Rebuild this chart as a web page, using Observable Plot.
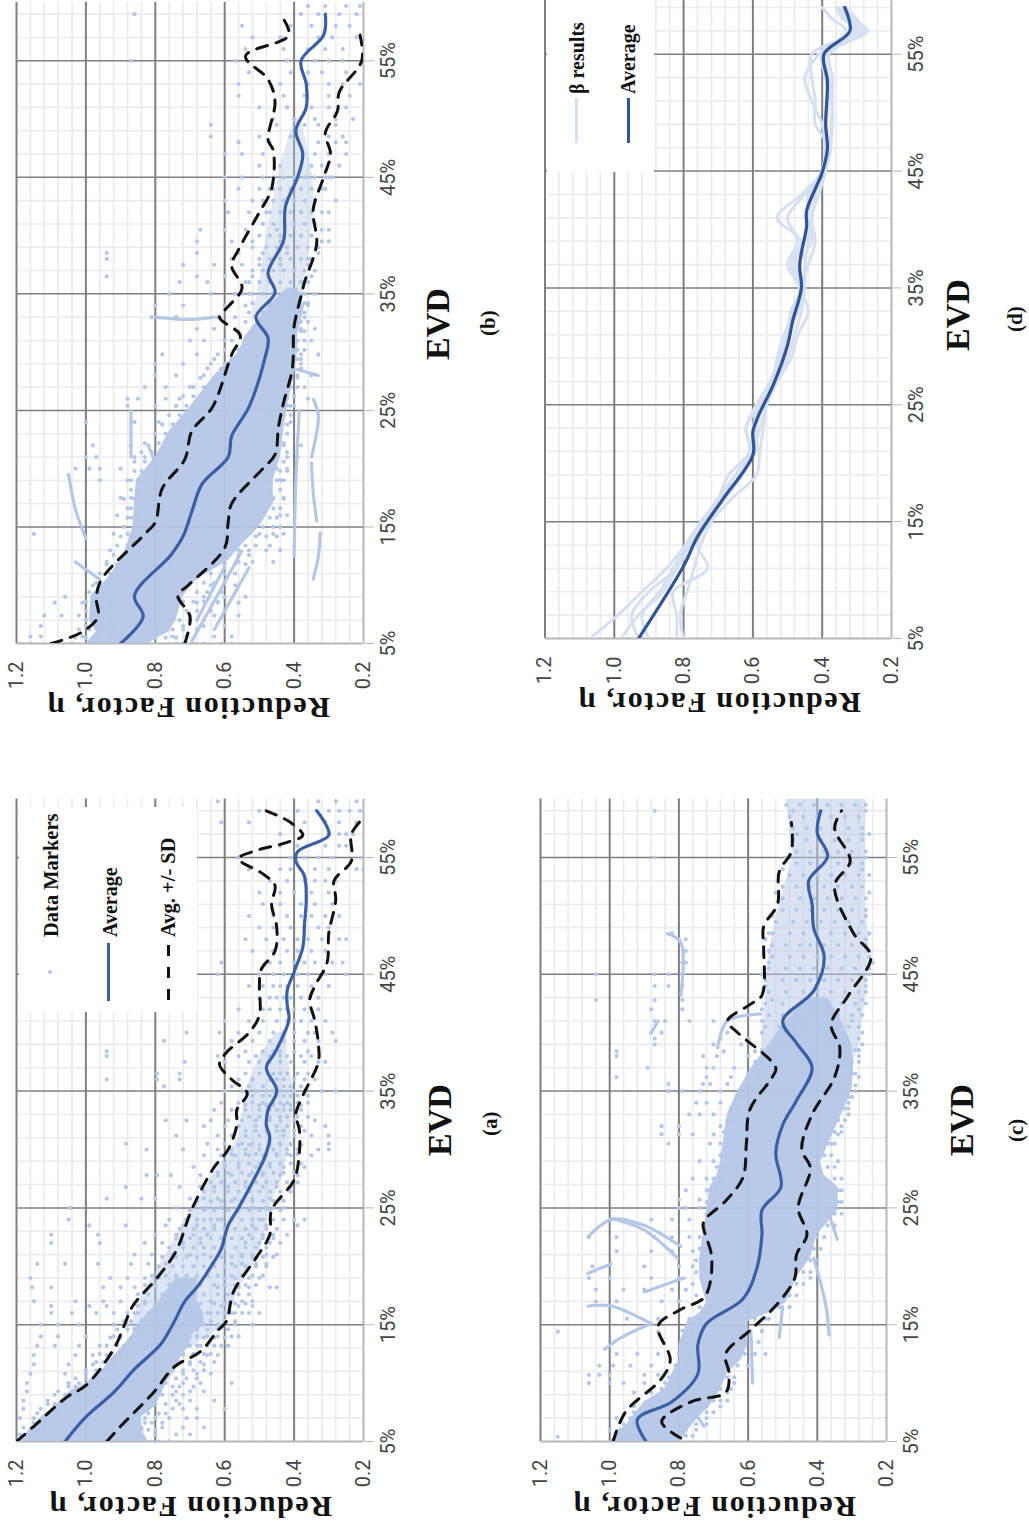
<!DOCTYPE html>
<html><head><meta charset="utf-8">
<script src="https://cdn.jsdelivr.net/npm/d3@7"></script>
<script src="https://cdn.jsdelivr.net/npm/@observablehq/plot@0.6"></script>
<style>
html,body{margin:0;padding:0;background:#fff;width:1029px;height:1531px;overflow:hidden}
#page{position:relative;width:1029px;height:1531px;overflow:hidden}
.plot{position:absolute}
.t{position:absolute;white-space:nowrap;transform-origin:0 0;font-family:"Liberation Serif",serif;font-weight:700;color:#111;line-height:1}
.box{position:absolute;background:#fff}
</style></head><body><div id="page"></div>
<script>
// shared ticks
const etaMajor=[1.2,1.0,0.8,0.6,0.4,0.2];
const etaMinor=[1.16,1.12,1.08,1.04,0.96,0.92,0.88,0.84,0.76,0.72,0.68,0.64,0.56,0.52,0.48,0.44,0.36,0.32,0.28,0.24];
const evdMajor=[5,15,25,35,45,55];
const evdMinor=[7,9,11,13,17,19,21,23,27,29,31,33,37,39,41,43,47,49,51,53,57,59];

// average and +/- SD series: [EVD, eta]
const avgA=[[5,1.06],[7.1,1],[9.2,.92],[11.2,.86],[13.3,.785],[15,.75],[17,.715],[18.2,.68],[20.2,.635],[21.5,.61],[23.5,.59],[25,.56],[27.2,.52],[29.3,.485],[31,.47],[32.1,.48],[33.4,.475],[35,.45],[37,.48],[38.3,.455],[41.1,.415],[42.4,.42],[43.6,.42],[45.2,.4],[47.3,.375],[49.3,.37],[51.4,.365],[53.4,.37],[54.7,.395],[55.5,.39],[56.9,.3],[57.9,.31],[59,.335]];
const upA=[[5,1.2],[6.3,1.15],[8.8,1.055],[9.8,1],[12.9,.92],[14.9,.89],[16.6,.865],[19,.795],[21.3,.74],[24.5,.7],[26.4,.67],[28.5,.63],[30,.59],[32.1,.565],[33.4,.565],[34.8,.535],[36,.58],[37.3,.615],[38.3,.595],[40,.53],[41.5,.5],[44,.5],[45.4,.495],[47,.455],[49,.45],[51,.465],[52.6,.455],[53.6,.49],[54.9,.56],[55.5,.52],[56.3,.42],[56.9,.375],[58,.41],[59,.48]];
const loA=[[5,.94],[6.3,.9],[9.2,.805],[11.4,.745],[12.7,.67],[14.5,.62],[15.3,.595],[17.8,.575],[20.7,.51],[22.7,.47],[24.8,.465],[27.4,.4],[29.7,.385],[31.7,.385],[33,.395],[34.6,.375],[37.5,.33],[39,.33],[41,.34],[42.8,.355],[44,.34],[46,.305],[48.5,.3],[51.4,.28],[53,.285],[54.7,.235],[57,.235],[58.4,.2]];

const avgB=[[5,.9],[7.3,.835],[9.1,.86],[12.6,.755],[14.2,.72],[16.3,.695],[18.7,.665],[21,.59],[22.8,.58],[25.3,.53],[29.4,.485],[31.2,.475],[33,.51],[35.1,.455],[36.8,.475],[39.6,.43],[42.5,.425],[45,.39],[47,.375],[49,.395],[51,.365],[53,.365],[55,.38],[57.2,.315],[59,.31]];
const upB=[[5,1.1],[6,1.01],[7.3,.965],[8.9,.97],[10.5,.955],[14.4,.83],[15.4,.8],[18.3,.78],[20.8,.715],[23.2,.695],[25.3,.635],[29.8,.58],[31.4,.555],[33,.615],[33.9,.59],[35.5,.55],[37.4,.58],[38.8,.56],[42,.5],[44,.465],[47.3,.46],[48.2,.475],[51.5,.455],[53.4,.475],[55.4,.54],[57.2,.415],[59,.44]];
const loB=[[5,.715],[7.3,.7],[9.1,.735],[10,.705],[13.2,.6],[15.4,.59],[17,.58],[20,.49],[21.2,.455],[23.6,.445],[25.7,.43],[28.6,.405],[32.2,.4],[34.8,.38],[36,.37],[39.3,.335],[42.2,.345],[45,.315],[47,.295],[48.8,.31],[50.7,.275],[52.3,.27],[55,.205],[57.2,.21]];

const avgC=[[5,.895],[6.9,.92],[8.4,.82],[10.8,.745],[13.3,.745],[15.1,.72],[17.2,.615],[19.8,.575],[22.7,.56],[24.8,.56],[26.8,.505],[29.7,.52],[32.1,.5],[34.2,.46],[37,.415],[39.1,.46],[41,.5],[43.6,.41],[46.5,.38],[48.9,.41],[51,.415],[53,.425],[55.1,.37],[57.1,.4],[59,.39]];
const upC=[[5,.99],[7.5,.955],[10.4,.85],[12,.825],[14.9,.86],[16.3,.795],[17.4,.725],[20.7,.705],[23.5,.73],[24,.725],[25.6,.665],[27.6,.615],[30.5,.605],[33.4,.595],[36.2,.53],[37,.52],[40,.63],[41,.66],[42.4,.595],[43.2,.56],[47.3,.555],[49.1,.555],[51,.515],[53.8,.51],[55.5,.475],[58,.475]];
const loC=[[5.3,.795],[6.7,.85],[8.4,.765],[9.2,.665],[10.8,.655],[12.5,.665],[14.5,.595],[16.8,.515],[19,.465],[21,.46],[22.7,.43],[25,.455],[28.4,.42],[30,.445],[33,.415],[36.2,.35],[38.7,.335],[40.7,.36],[43.2,.31],[46.5,.245],[48.5,.295],[52.6,.35],[54.7,.305],[57.5,.35],[59,.33]];

const avgD=[[5,.93],[11.2,.8],[13.7,.76],[17,.685],[20.7,.6],[22.7,.6],[24,.585],[26.8,.54],[30.1,.5],[32.2,.485],[35,.46],[37,.465],[40.3,.445],[41.6,.445],[44.9,.4],[46.9,.385],[49,.39],[52.7,.385],[55,.395],[57,.32],[59,.335]];
const betaEvd=[5,7,9,11,13,15,17,19,21,23,25,27,29,31,33,35,37,39,41,43,45,47,49,51,53,55,57,58,59];
const beta1=[1.07,.99,.92,.85,.795,.75,.7,.67,.605,.62,.59,.55,.525,.5,.49,.46,.49,.46,.53,.46,.4,.39,.4,.43,.45,.41,.33,.37,.4];
const beta2=[.93,.95,.9,.82,.78,.74,.7,.65,.6,.6,.58,.54,.53,.51,.48,.465,.5,.47,.5,.45,.4,.38,.42,.42,.43,.43,.3,.34,.36];
const beta3=[.82,.82,.83,.73,.76,.73,.68,.63,.6,.58,.56,.53,.5,.48,.46,.45,.45,.44,.43,.42,.4,.38,.37,.37,.37,.38,.28,.3,.33];
const beta4=[.8,.81,.79,.77,.75,.72,.66,.59,.58,.57,.56,.53,.49,.47,.44,.46,.44,.42,.43,.41,.39,.375,.375,.37,.38,.39,.27,.31,.34];
const beta5=[.9,.92,.87,.83,.79,.75,.7,.67,.61,.62,.58,.55,.52,.5,.49,.46,.48,.45,.44,.43,.4,.39,.39,.38,.39,.4,.31,.33,.36];
const beta6=[.98,.93,.86,.82,.78,.74,.69,.65,.59,.59,.57,.54,.51,.5,.47,.46,.47,.43,.44,.44,.4,.38,.39,.38,.38,.4,.29,.32,.35];

// dense cores of the clouds: [EVD, upper eta, lower eta]
const coreA=[[5,1.2,.82],[6,1.16,.84],[7.1,1.13,.84],[8,1.09,.8],[9.2,1.05,.78],[10,1,.77],[11.2,.95,.74],[12,.93,.73],[13.3,.89,.7],[14,.87,.7],[15,.85,.66],[16,.82,.66],[17,.79,.68],[19,.74,.68]];
const hazeA=[[13,.84,.7],[15,.87,.6],[18,.83,.56],[21,.77,.5],[25,.69,.47],[28,.63,.43],[31,.56,.41],[35,.54,.4],[38,.5,.42],[40,.45,.42]];
const coreB=[[5,1,.82],[6,.97,.76],[7,.99,.74],[9.1,.985,.72],[10.5,.94,.68],[12.1,.9,.59],[13.5,.88,.55],[15,.865,.5],[17,.86,.46],[19,.855,.46],[21,.8,.44],[23.2,.76,.43],[25.3,.7,.42],[28,.63,.4],[30,.56,.39],[31.4,.54,.39],[33.9,.475,.37],[35.5,.42,.39]];
const hazeB=[[31,.46,.42],[33,.52,.38],[36,.5,.37],[40,.48,.35],[43,.46,.34],[46,.44,.35],[50,.4,.38]];
const coreC=[[5,1,.8],[6.5,.95,.76],[8.4,.9,.7],[9.5,.84,.68],[10.8,.82,.66],[12,.8,.62],[13.3,.8,.6],[15.3,.775,.6],[16,.74,.54],[16.9,.72,.49],[19,.74,.46],[20.7,.74,.42],[22.7,.73,.4],[24.8,.72,.34],[26.8,.71,.34],[27.8,.69,.38],[28.9,.68,.39],[31,.67,.36],[33,.66,.33],[35,.63,.3],[37,.59,.295],[39,.54,.3],[41,.49,.33],[43,.43,.37]];
const hazeC=[[37,.55,.3],[39,.56,.28],[43,.55,.26],[47,.54,.25],[51,.51,.26],[55,.47,.26],[60,.49,.26]];

// dots: [EVD, eta, eta, ...]
const dotsA=[
[5,1.19,1.18,1.16,.83,.81,.79,.76],[5.6,1.19,1.17,.85,.8,.74,.7],[6.2,1.18,1.15,1.12,.84,.78,.72,.66],[7,1.19,1.15,1.1,.83,.8,.76,.71,.68],
[7.8,1.18,1.13,1.09,.82,.75,.72,.68,.6],[8.5,1.18,1.11,1.06,.8,.74,.7,.63],[9.3,1.17,1.08,1.04,.79,.74,.7,.66],[10,1.17,1.05,1.02,.77,.72,.67,.58],
[10.8,1.16,1.06,1,.76,.72,.68,.64],[11.6,1.15,1.05,.98,.74,.7,.66],[12.4,1.15,1.03,.98,.94,.72,.69,.65,.62],[13.2,1.14,1.09,1.02,.96,.7,.67,.63,.59],
[14,1.13,1.08,1,.92,.68,.65,.62,.58,.56],[15,1.13,1.08,1.02,.92,.88,.66,.62,.6,.57,.52],[16,1.1,1.04,.97,.92,.86,.64,.6,.57,.53,.5],[16.6,1.1,.99,.94,.85,.61,.56,.52],
[17,1.15,1.03,.95,.9,.83,.64,.58,.55,.52],[18.2,1.155,1.1,.95,.9,.86,.8,.62,.56,.53,.47,.45],[19,1.16,.93,.88,.83,.79,.6,.57,.53,.5],[20.2,1.14,1.06,.965,.87,.82,.77,.58,.55,.51,.48],
[21,.86,.81,.75,.7,.66,.55,.52,.48,.45],[22,1.1,.96,.83,.78,.72,.67,.54,.5,.47,.44],[22.7,1.1,.965,.8,.74,.69,.65,.53,.49,.46,.42],[23.5,.99,.885,.77,.72,.68,.63,.52,.48,.39],
[24,1.05,.76,.71,.66,.62,.58,.5,.47,.4,.37],[25,1.045,.74,.69,.65,.61,.56,.52,.48,.46,.43],[25.8,.94,.84,.8,.7,.66,.62,.57,.52,.47,.44],[26.8,.885,.73,.67,.63,.59,.54,.49,.45,.41],
[27.8,.825,.795,.755,.67,.62,.58,.53,.49,.44,.39],[28.5,.69,.63,.6,.56,.51,.47,.43,.37],[29.5,.66,.61,.57,.53,.49,.45,.41,.35],[30,.825,.72,.62,.58,.54,.5,.46,.42,.39,.33,.3],
[30.5,.885,.65,.6,.55,.52,.47,.44,.41,.3],[31.2,.74,.62,.58,.54,.5,.47,.43,.4,.35,.3],[32,.66,.6,.56,.51,.48,.45,.42,.38,.31],[32.5,.77,.71,.64,.59,.55,.51,.47,.44,.4,.34],
[33.4,.63,.58,.54,.5,.47,.45,.43,.41,.38],[34,.61,.56,.52,.49,.46,.44,.42,.39,.36],[35,.6,.55,.51,.48,.46,.44,.42,.4,.37,.32,.28],[35.4,.775,.58,.53,.49,.45,.43,.41,.38],
[36,.94,.795,.73,.56,.52,.47,.45,.43,.4,.37,.34],[36.5,.795,.73,.54,.5,.46,.44,.42,.39,.36],[37.5,.715,.6,.53,.5,.47,.44,.41,.37,.33,.31],[38,.94,.62,.56,.51,.47,.44,.42,.38,.35],
[38.4,.94,.6,.54,.49,.46,.44,.4,.36],[39.3,.775,.58,.52,.47,.43,.4,.37,.33,.28],[40,.71,.615,.56,.5,.46,.43,.4,.36,.34,.29],[41,.6,.53,.49,.45,.42,.4,.38,.35,.31],
[42,.56,.49,.47,.44,.42,.4,.37,.33],[43,.5,.47,.45,.43,.41,.38,.33],[44,.53,.49,.46,.44,.42,.39,.35,.3],[45,.62,.5,.46,.43,.39,.36,.31,.25],
[46,.61,.47,.44,.4,.37,.34,.29,.26],[47,.52,.46,.42,.39,.35,.31],[48,.54,.48,.43,.39,.36,.32,.27,.25],[49,.5,.46,.41,.37,.33,.3],
[50,.53,.46,.42,.38,.35,.31,.27],[51,.49,.44,.38,.34,.29],[52,.5,.44,.4,.35,.3],[53,.47,.42,.37,.34,.31,.28],
[54,.53,.44,.41,.34,.3,.22,.2],[55,.56,.41,.37,.33,.29,.21],[56,.44,.39,.31,.27,.25],[57,.44,.3,.27,.25,.23],
[58,.61,.53,.37,.31,.27,.22],[59,.5,.39,.3,.27,.24,.21],[59.8,.62,.33,.28,.22]];
const dotsA2=[
[6,1.16,1.14,.84,.82,.8],[6.6,1.15,1.12,.85,.83,.81,.78],[7.4,1.14,1.11,1.08,.85,.82,.79,.77],[8.2,1.11,1.09,1.06,.83,.8,.77,.73],[9,1.09,1.06,1.03,.8,.78,.75,.72],[9.7,1.05,1.03,.99,.78,.75,.73,.69],
[10.4,1.03,1,.97,.77,.74,.71,.68],[11.1,1,.97,.94,.75,.72,.69,.66],[11.8,.97,.95,.92,.73,.7,.67,.63],[12.5,.96,.93,.9,.72,.69,.66,.64],[13.2,.94,.91,.89,.71,.68,.65,.61],[13.9,.93,.9,.87,.7,.66,.63,.6],
[14.6,.91,.88,.86,.68,.65,.62,.59],[15.3,.89,.87,.84,.67,.64,.6,.57],[16,.88,.85,.82,.79,.76,.72,.69,.65,.62,.58,.55],[16.8,.86,.83,.8,.77,.74,.7,.67,.63,.6,.57,.54],[17.6,.85,.82,.78,.75,.72,.69,.66,.62,.59,.56,.53],
[18.4,.83,.8,.76,.73,.7,.67,.63,.6,.57,.54,.51],[19.2,.81,.77,.74,.71,.68,.65,.62,.58,.55,.52,.49],[20,.79,.75,.72,.69,.66,.63,.6,.57,.54,.51,.48],[20.8,.78,.74,.71,.68,.64,.61,.58,.55,.52,.49,.46],[21.6,.76,.72,.69,.66,.63,.6,.57,.54,.51,.48],
[22.4,.74,.7,.67,.64,.61,.58,.55,.52,.49,.46],[23.2,.73,.69,.66,.63,.6,.57,.54,.51,.48,.45],[24,.71,.68,.64,.61,.58,.55,.52,.49,.46,.43],[24.8,.7,.66,.63,.59,.56,.53,.5,.47,.44],[25.6,.68,.64,.61,.58,.55,.52,.49,.46,.43],
[26.4,.66,.63,.59,.56,.53,.5,.47,.44,.41],[27.2,.64,.61,.57,.54,.51,.48,.45,.42,.39],[28,.62,.59,.55,.52,.49,.46,.43,.4],[28.8,.6,.56,.53,.5,.47,.44,.41,.38],[29.6,.58,.54,.51,.48,.45,.42,.39],
[30.4,.56,.53,.5,.47,.44,.41,.38],[31.6,.54,.51,.48,.45,.43,.4,.37],[32.8,.53,.5,.47,.44,.42,.39,.36],[33.8,.54,.5,.48,.46,.43,.41,.38],[34.6,.52,.49,.47,.45,.43,.41,.39,.36]];

const dotsB=[
[5,1.19,1.16,1.04,.98,.74,.72,.69,.66,.61,.58],[5.6,1.16,1.13,1.01,.96,.93,.75,.71,.63,.58],[6.5,1.13,1.0,.96,.92,.72,.66,.6],[7.4,1.12,1.07,1.02,.98,.7,.63,.56],
[8.5,1.09,1.01,.96,.68,.62,.56],[9,1.06,.97,.66,.6,.54],[10,.98,.92,.64,.57],[12,.94,.56,.52,.46],[13,.93,.56,.53,.48,.44],[14.4,1.15,.92,.88,.5,.46,.43],
[16,.91,.85,.44,.42],[17.5,.9,.87,.46,.43],[19,.96,.88,.44,.43],[20,1.03,.99,.96,.9,.45,.42],[21,1,.97,.86,.83,.42,.39],[22,.98,.87,.82,.43,.38],[24,1,.86,.79,.41],[25.4,.88,.8,.74,.4],
[26,.88,.85,.77,.73,.67,.42,.36],[27,.83,.77,.69,.41,.37],[28,.8,.74,.66,.39,.35],[29,.8,.72,.64,.6,.38],[29.8,.78,.68,.62,.38,.33],[31,.7,.66,.6,.37,.35],
[32,.68,.63,.57,.38,.34],[33,.81,.74,.62,.57,.37],[34,.8,.72,.6,.54,.36],[35,.76,.64,.57,.53,.38,.34],[36,.73,.65,.54,.38,.36],[36.5,.94,.68,.6,.52,.35],
[37.5,.72,.63,.55,.5,.44,.36],[38,.94,.58,.5,.44,.36],[38.5,.94,.68,.56,.49,.42,.33],[39.5,.68,.58,.52,.44,.32,.3],[40.5,.67,.6,.54,.45,.32,.3],[42,.59,.53,.48,.3],
[43,.6,.52,.49,.34,.28],[44,.56,.5,.46,.31],[45,.6,.55,.49,.36,.3,.29],[46,.5,.44,.35,.32,.27],[47,.6,.55,.49,.34,.3,.25],[48,.56,.47,.33,.28,.25],[48.5,.64,.5,.41,.3,.26],
[49.5,.64,.45,.37,.33,.28],[50,.46,.4,.34,.28,.23],[51,.5,.42,.35,.3,.25],[52,.56,.43,.37,.3,.24],[53,.56,.44,.36,.3,.26,.21],[54,.53,.41,.36,.32,.25],[55,.87,.57,.42,.34,.3,.26],
[56,.54,.43,.36,.31,.26],[57,.52,.44,.33,.29,.22],[58,.55,.41,.35,.28,.24],[59,.86,.38,.33,.27,.22],[59.7,.36,.31,.25,.21]];
const dotsB2=[
[5.5,1.03,1,.97,.8,.77,.74],[6.2,1.02,.99,.95,.79,.75,.72,.68],[7,1,.97,.93,.76,.73,.7,.66],[7.8,1,.95,.74,.71,.68,.64],[8.6,1,.96,.93,.72,.69,.66,.62],[9.4,.99,.95,.72,.68,.65,.61],[10.2,.97,.94,.7,.66,.63,.6],
[11,.96,.93,.67,.64,.6,.57],[11.8,.94,.91,.63,.6,.57,.54],[12.6,.92,.89,.59,.56,.53],[13.4,.91,.88,.57,.54,.51,.47],[14.2,.9,.87,.54,.51,.48,.45],[15,.89,.86,.52,.49,.46,.44],[15.8,.88,.87,.5,.47,.45],[16.6,.88,.87,.48,.46,.44],
[17.4,.89,.86,.48,.46,.43],[18.2,.87,.85,.47,.44],[19,.87,.85,.47,.45],[19.8,.86,.84,.46,.44,.42],[20.6,.86,.83,.46,.43],[21.4,.84,.81,.45,.42],[22.2,.83,.79,.45,.43],[23,.8,.77,.44,.42],[23.8,.78,.75,.44,.42],[24.6,.76,.73,.43,.41],
[25.4,.74,.71,.42,.41],[26.2,.72,.69,.42,.4],[27,.7,.66,.41,.39],[27.8,.67,.63,.41,.39],[28.6,.65,.61,.4,.38],[29.4,.63,.58,.39,.38],[30.2,.6,.56,.39,.37],[31,.58,.54,.39,.37],[31.8,.56,.52,.38,.37],[32.6,.54,.5,.38,.36],[33.4,.53,.49,.37],[34.2,.52,.47,.37,.36],
[35,.55,.52,.49,.46,.43,.4,.37],[36,.53,.5,.47,.44,.41,.38],[37,.52,.49,.46,.43,.4,.37,.34],[38,.5,.47,.44,.41,.38,.35],[39,.52,.48,.45,.42,.39,.36,.33],[40,.5,.47,.44,.41,.38,.35],[41,.49,.46,.43,.4,.37,.34],[42,.47,.44,.41,.38,.35,.32],[43,.46,.43,.4,.37,.34],[44,.47,.44,.41,.38,.35,.32],[45,.46,.43,.4,.37,.34,.31]];

const dotsC=[
[5.4,1.15,.98,.96,.94],[6,1,.97,.95,.78,.75],[7,.98,.94,.8,.76,.72],[8,.93,.88,.72,.68],[9.2,.93,.88,.72,.66],[10,1.06,1,.96,.9,.84,.64],[10.7,1.06,1.03,1,.9,.86],[11.5,1.03,.99,.94,.88],
[12.5,.98,.92,.86,.58,.55],[14.4,1.15,.86,.6,.56],[15.5,.95,.86,.6,.55],[17,1.04,.98,.85,.8],[18,1.04,.96,.9,.82,.78],[19,1.06,1,.88,.8,.42],[20,1.05,.9,.8,.76],[21.3,.98,.88,.82,.76],
[22.5,1.06,.98,.87,.82,.77],[24,.88,.82,.77],[25,.8,.78,.74,.71],[25.7,.8,.74,.7],[26.5,.78,.72],[27.5,.76,.72],[29,.74,.7,.34],[30.5,.83,.71,.36],[31.3,.85,.8,.76,.7,.34],[32,.85,.8,.68,.33],
[33,.77,.74,.7,.31],[34,.75,.72,.68,.31],[35,.83,.79,.74,.68,.29],[35.6,.83,.73,.71,.66],[36.2,.98,.72,.65,.28],[37,.89,.72,.7,.64],[38,.98,.73,.69,.6,.28],[38.4,.98,.67,.58],
[39,.87,.7,.62,.27],[39.5,.87,.68,.6,.28],[40,.88,.85,.66,.56,.27],[41,.87,.84,.77,.7,.56,.3],[42,.88,.79,.56,.28],[42.8,1.04,.87,.79,.53,.27],[44,.87,.83,.79,.55,.26],[45,1.04,.87,.83,.79,.56,.25],
[46,.79,.78,.54,.24],[47,.78,.54,.25],[48,.8,.78,.55,.26],[48.5,.82,.54,.25],[50,.53,.26],[52,.52,.25],[54,.5,.27],[55,.87,.49,.26],[57,.46,.27,.25],[59,.87,.47,.26]];
const dotsC2=[
[5.5,.98,.95,.78,.76],[6.5,.96,.93,.78,.75,.72],[7.5,.93,.9,.75,.72,.7],[8.5,.88,.85,.7,.68,.66],[9.5,.85,.82,.68,.65],[10.5,.83,.8,.66,.64],[11.5,.81,.78,.63,.6],[12.5,.8,.77,.61,.59],[13.5,.79,.76,.59,.57],[14.5,.79,.76,.6,.56],
[15.5,.77,.74,.58,.54],[16.5,.74,.71,.51,.48],[17.5,.75,.72,.48,.46],[18.5,.76,.73,.46,.44],[19.5,.75,.72,.44,.42],[20.5,.75,.73,.42,.4],[21.5,.74,.72,.41,.39],[22.5,.74,.72,.4,.38],[23.5,.73,.71,.37,.35],[24.5,.72,.7,.35,.33],
[25.5,.72,.7,.34,.33],[26.5,.71,.69,.34,.33],[27.5,.7,.68,.35,.33],[28.5,.69,.67,.37,.35],[29.5,.68,.66,.38,.36],[30.5,.68,.66,.37,.35],[31.5,.67,.65,.35,.33],[32.5,.66,.64,.34,.32],[33.5,.65,.63,.32,.31],[34.5,.63,.61,.31,.3],
[35.5,.61,.59,.31,.29],[36.5,.6,.57,.3,.29],[37.5,.58,.56,.3,.28],[38.5,.56,.54,.29,.28],
[40.5,.55,.51,.47,.43,.39,.35,.31,.28],[41.5,.54,.5,.46,.42,.38,.34,.3,.27],[42.5,.55,.5,.45,.41,.37,.33,.29,.26],[43.5,.54,.49,.44,.4,.36,.32,.28,.26],[44.5,.55,.5,.46,.42,.38,.34,.3,.26],[45.5,.54,.49,.45,.41,.37,.33,.29,.25],
[46.5,.53,.48,.44,.4,.36,.32,.28,.25],[47.5,.53,.49,.45,.42,.38,.34,.3,.26],[48.5,.53,.48,.44,.4,.36,.32,.28,.25],[49.5,.52,.47,.43,.39,.35,.31,.27],[50.5,.5,.46,.42,.38,.34,.3,.26],[51.5,.5,.45,.41,.37,.33,.29,.26],[52.5,.5,.46,.42,.38,.34,.3,.27],
[53.5,.48,.44,.4,.36,.32,.28,.25],[54.5,.46,.42,.38,.34,.3,.27],[55.5,.46,.42,.38,.34,.3,.26],[56.5,.47,.43,.39,.35,.31,.27],[57.5,.47,.43,.39,.35,.31,.27],[58.5,.48,.44,.4,.36,.32,.28],[59.5,.49,.45,.41,.37,.33,.29,.26]];

// streaks of closely spaced markers: [EVD, eta] pairs
const streaksB=[
[[12,1.03],[10.5,.96]],[[14,1.0],[16.5,1.03],[19.5,1.05]],[[12.5,.4],[19,.395],[25,.385]],[[10.5,.345],[12.5,.33],[14.5,.325]],[[15.5,.335],[18,.345],[20.5,.35]],[[21,.35],[24.5,.33],[26,.345]],
[[5.2,.695],[10.8,.59],[13,.55]],[[6.2,.63],[11.5,.53]],[[7,.68],[11.6,.6]],[[33,.8],[32.8,.7],[33,.63]],[[25,.87],[21,.87]],[[28,.33],[28.5,.39]],[[22,.82],[19,.78]]];
const streaksC=[
[[22.5,1.063],[24,.996],[23.5,.9],[21.7,.794]],[[24.1,.996],[23.1,.9],[20.7,.804]],[[19.4,1.063],[20.2,.996]],[[17.8,.9],[19,.785]],[[16.6,1.063],[16.6,.996],[15.1,.88]],[[12.9,1.015],[13.9,.967],[15.1,.88]],
[[14.1,.366],[16.6,.375],[20.7,.41]],[[22.3,.342],[24.8,.37]],[[6.3,.727],[8.8,.785]],[[5,.804],[8,.737]],[[10,.587],[14.5,.592]],[[13.9,.51],[16.6,.5]],[[48.5,.833],[47.7,.794],[43.2,.794]],[[38.7,.688],[41,.66],[41.6,.563]],[[40,.88],[41,.86]]];

const rows=r=>r.flatMap(([e,...v])=>v.map(h=>({e,h})));
const pairs=a=>a.map(([e,h])=>({e,h}));
const C_DOT="#b4c7e7",C_AVG="#3a5fa5",C_GRID="#ececec",C_MAJ="#7f7f7f",C_AXIS="#b8b8b8";

function panel(o){
  const FF="Liberation Sans Narrow, Roboto, sans-serif";
  const marks=[
    Plot.ruleX(etaMinor,{stroke:C_GRID,strokeWidth:1.8}),
    Plot.ruleY(evdMinor,{stroke:C_GRID,strokeWidth:1.6}),
    Plot.ruleX(etaMajor.filter(d=>d!==.2),{stroke:C_MAJ,strokeWidth:2}),
    Plot.ruleX([.2],{stroke:C_AXIS,strokeWidth:2}),
    Plot.ruleY(evdMajor.filter(d=>d!==5),{stroke:C_MAJ,strokeWidth:1.5}),
    Plot.ruleY([5],{stroke:C_AXIS,strokeWidth:1.8}),
    Plot.axisX({anchor:"bottom",ticks:etaMajor,tickFormat:d3.format(".1f"),tickRotate:-90,tickSize:0,tickPadding:18,label:null,fontSize:20,fontFamily:FF,color:"#444"}),
    Plot.axisY({anchor:"right",ticks:evdMajor,tickFormat:d=>d+"%",tickRotate:-90,tickSize:10,tickPadding:21,label:null,fontSize:20,fontFamily:FF,color:"#444",stroke:C_AXIS})
  ];
  const area=(d,op)=>Plot.areaX(d,{y:a=>a[0],x1:a=>a[1],x2:a=>a[2],fill:C_DOT,fillOpacity:op,curve:"linear",clip:true});
  if(o.haze) marks.push(area(o.haze,o.hazeOp||.45));
  if(o.core) marks.push(area(o.core,.95));
  (o.streaks||[]).forEach(s=>marks.push(Plot.line(pairs(s),{x:"h",y:"e",stroke:C_DOT,strokeWidth:3.2,strokeDasharray:"3,1",curve:"catmull-rom",clip:true})));
  (o.dots||[]).forEach(d=>marks.push(Plot.dot(rows(d),{x:"h",y:"e",r:2.1,fill:C_DOT,clip:true})));
  (o.betas||[]).forEach(b=>marks.push(Plot.line(betaEvd.map((e,i)=>({e,h:b[i]})),{x:"h",y:"e",stroke:"#d6e0f1",strokeWidth:3,curve:"catmull-rom",clip:true})));
  [o.up,o.lo].forEach(s=>{if(s)marks.push(Plot.line(pairs(s),{x:"h",y:"e",stroke:"#111",strokeWidth:3,strokeDasharray:"11,9",curve:"catmull-rom",clip:true}))});
  marks.push(Plot.line(pairs(o.avg),{x:"h",y:"e",stroke:o.avgColor||C_AVG,strokeWidth:o.avgW||3.2,curve:"catmull-rom",clip:true}));
  const p=Plot.plot({width:o.w,height:o.h,marginLeft:o.ml,marginRight:o.mr,marginTop:o.mt,marginBottom:o.mb,
    x:{domain:[1.2,.2],axis:null},y:{domain:[5,o.top],axis:null},style:{background:"transparent",overflow:"visible"},marks});
  p.classList.add("plot");
  p.style.left=o.left+"px";p.style.top=o.topPx+"px";
  document.getElementById("page").appendChild(p);
}
panel({left:0,topPx:780,w:510,h:751,ml:16,mr:147,mt:18.6,mb:90,top:60,avg:avgA,up:upA,lo:loA,core:coreA,haze:hazeA,hazeOp:.45,dots:[dotsA,dotsA2]});
panel({left:0,topPx:0,w:510,h:751,ml:16,mr:147,mt:2,mb:108,top:60,avg:avgB,up:upB,lo:loB,core:coreB,haze:hazeB,hazeOp:.4,dots:[dotsB,dotsB2],streaks:streaksB});
panel({left:510,topPx:780,w:519,h:751,ml:30,mr:143,mt:18.6,mb:90,top:60,avg:avgC,up:upC,lo:loC,core:coreC,haze:hazeC,hazeOp:.5,dots:[dotsC,dotsC2],streaks:streaksC});
panel({left:510,topPx:0,w:519,h:751,ml:34.5,mr:138,mt:0,mb:113,top:59.6,avg:avgD,avgColor:"#2f5597",avgW:3.2,betas:[beta1,beta2,beta3,beta4,beta5,beta6]});

// captions and legends
const page=document.getElementById("page");
function vtext(s,x,y,size,extra){
  const d=document.createElement("div");d.className="t";d.textContent=s;
  d.style.left=x+"px";d.style.top=y+"px";d.style.fontSize=size+"px";
  d.style.transform="rotate(-90deg) translateY(-50%)";
  if(extra)Object.assign(d.style,extra);page.appendChild(d);return d;
}
function flip(s,cx,cy,size){
  const d=document.createElement("div");d.className="t";d.textContent=s;
  d.style.left=cx+"px";d.style.top=cy+"px";d.style.fontSize=size+"px";d.style.letterSpacing="1.6px";
  d.style.transform="rotate(180deg) translate(-50%,-50%)";page.appendChild(d);
}
function box(x,y,w,h,css){const d=document.createElement("div");d.className="box";
  Object.assign(d.style,{left:x+"px",top:y+"px",width:w+"px",height:h+"px"},css||{});page.appendChild(d);return d;}

flip("Reduction Factor, η",190,1507,30);
flip("Reduction Factor, η",188,708,30);
flip("Reduction Factor, η",714,1507,30);
flip("Reduction Factor, η",719,703,30);
vtext("EVD",440,1156,34);vtext("EVD",438,360,34);vtext("EVD",962,1156,34);vtext("EVD",958,351,34);
vtext("(a)",490,1136,21);vtext("(b)",488,336,21);vtext("(c)",1016,1142,21);vtext("(d)",1015,332,21);

// legend (a)
box(19,807,178,205);
vtext("Data Markers",51,937,20.5);vtext("Average",110,937,20);vtext("Avg. +/- SD",168,937,20.5);
box(48,970,4,4,{background:C_DOT,borderRadius:"50%"});
box(107,943,3,58,{background:C_AVG});
box(167,945,3,56,{background:"repeating-linear-gradient(to bottom,#111 0 11px,transparent 11px 22px)"});
// legend (d)
box(547,0,107,172);
vtext("β results",577,94,20);vtext("Average",628,94,20);
box(575,98,3,45,{background:"#d6e0f1"});
box(627,98,3,45,{background:"#2f5597"});
</script></body></html>
